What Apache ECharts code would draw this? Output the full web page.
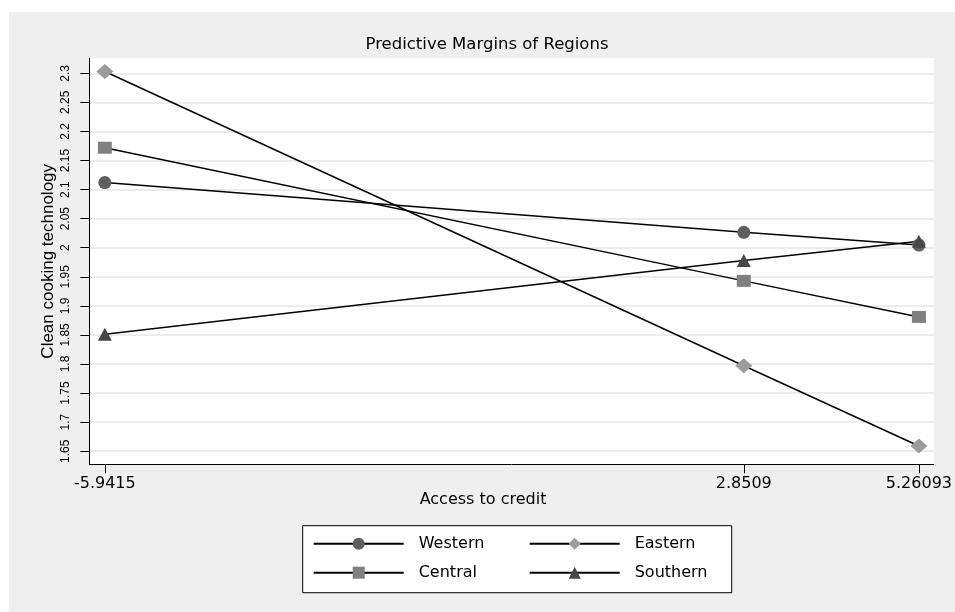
<!DOCTYPE html>
<html>
<head>
<meta charset="utf-8">
<script src="https://cdn.jsdelivr.net/npm/echarts@6/dist/echarts.min.js"></script>
<style>
  html, body { margin: 0; padding: 0; background: #ffffff; width: 955px; height: 612px; overflow: hidden; }
  #chart { position: absolute; left: 9px; top: 12px; width: 946px; height: 600px; }
</style>
</head>
<body>
<div id="chart"></div>
<script>
// Evaluation points of access to credit and their printed labels
const creditPoints = [-5.9415, 2.8509, 5.26093];
const creditLabels = ['-5.9415', '2.8509', '5.26093'];

// Y-axis tick values
const marginTicks = [1.65, 1.7, 1.75, 1.8, 1.85, 1.9, 1.95, 2, 2.05, 2.1, 2.15, 2.2, 2.25, 2.3];

// Predictive margins per region at each evaluation point
const regionNames = ['Western', 'Eastern', 'Central', 'Southern'];
const western  = [2.112, 2.0265, 2.0045];
const eastern  = [2.303, 1.797, 1.659];
const central  = [2.172, 1.943, 1.881];
const southern = [1.851, 1.978, 2.011];

const pairs = vals => vals.map((v, i) => [creditPoints[i], v]);

const H_FONT = 'DejaVu Sans';
const V_FONT = 'Liberation Sans';

function regionSeries(name, vals, symbol, size, color) {
  return {
    name: name,
    type: 'line',
    data: pairs(vals),
    symbol: symbol,
    symbolSize: size,
    showSymbol: true,
    itemStyle: { color: color, opacity: 1 },
    lineStyle: { color: '#000000', width: 1.5 },
    emphasis: { disabled: true },
    animation: false,
    z: 3
  };
}

const chart = echarts.init(document.getElementById('chart'), null, { renderer: 'canvas' });

chart.setOption({
  backgroundColor: '#efefef',
  animation: false,
  title: {
    text: 'Predictive Margins of Regions',
    left: 478,
    top: 24,
    textAlign: 'center',
    padding: 0,
    textStyle: { fontFamily: H_FONT, fontSize: 16.5, fontWeight: 'normal', color: '#000000' }
  },
  grid: {
    left: 80.3,
    top: 46.3,
    width: 852.4,
    height: 406,
    show: true,
    backgroundColor: '#ffffff',
    borderWidth: 0,
    containLabel: false
  },
  xAxis: {
    type: 'value',
    min: -6.1555,
    max: 5.4654,
    name: 'Access to credit',
    nameLocation: 'middle',
    nameGap: 28,
    nameMoveOverlap: false,
    nameTextStyle: { fontFamily: H_FONT, fontSize: 16, color: '#000000', padding: [0, 57, 0, 0] },
    axisLine: { show: true, onZero: false, lineStyle: { color: '#000000', width: 1 } },
    axisTick: { show: true, length: 9, lineStyle: { color: '#000000', width: 1 }, customValues: creditPoints },
    axisLabel: {
      show: true,
      margin: 12,
      customValues: creditPoints,
      fontFamily: H_FONT,
      fontSize: 16,
      color: '#000000',
      formatter: v => {
        const i = creditPoints.findIndex(p => Math.abs(p - v) < 1e-6);
        return i >= 0 ? creditLabels[i] : '';
      }
    },
    splitLine: { show: false }
  },
  yAxis: {
    type: 'value',
    min: 1.6275,
    max: 2.3258,
    name: 'Clean cooking technology',
    nameLocation: 'middle',
    nameGap: 32,
    nameMoveOverlap: false,
    nameTextStyle: { fontFamily: V_FONT, fontSize: 17, color: '#000000' },
    axisLine: { show: true, onZero: false, lineStyle: { color: '#000000', width: 1 } },
    axisTick: { show: true, length: 9, lineStyle: { color: '#000000', width: 1 }, customValues: marginTicks },
    axisLabel: {
      show: true,
      rotate: 90,
      margin: 18,
      customValues: marginTicks,
      fontFamily: V_FONT,
      fontSize: 12,
      color: '#000000',
      formatter: v => String(Math.round(v * 100) / 100)
    },
    splitLine: { show: true, lineStyle: { color: '#e6e6e6', width: 1.5, type: 'solid' } }
  },
  legend: {
    data: regionNames,
    left: 293.7,
    top: 513.7,
    width: 425,
    orient: 'horizontal',
    itemWidth: 90,
    itemHeight: 15,
    itemGap: 13,
    padding: [10, 0, 12, 10],
    backgroundColor: '#ffffff',
    borderColor: '#000000',
    borderWidth: 1,
    borderRadius: 0,
    selectedMode: false,
    textStyle: {
      fontFamily: H_FONT,
      fontSize: 16,
      color: '#000000',
      width: 97,
      lineHeight: 14,
      padding: [0, 0, 0, 10]
    }
  },
  series: [
    regionSeries('Western', western, 'circle', 13, '#5f5f5f'),
    regionSeries('Central', central, 'rect', [14, 12], '#808080'),
    regionSeries('Eastern', eastern, 'diamond', [17, 15], '#9c9c9c'),
    regionSeries('Southern', southern, 'triangle', [14, 13], '#474747')
  ]
});
</script>
</body>
</html>
